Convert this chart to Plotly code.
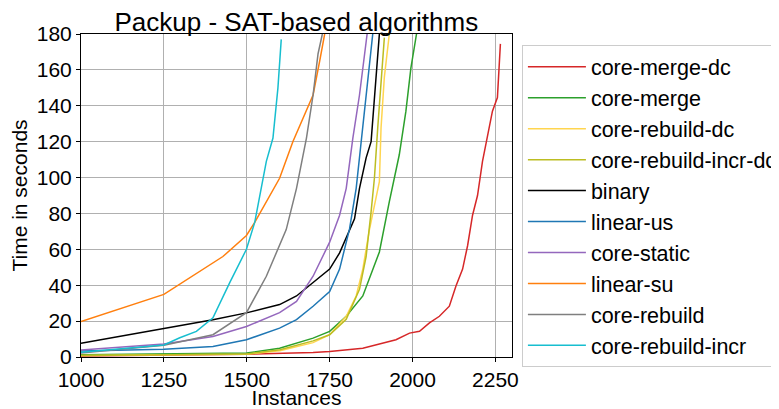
import plotly.graph_objects as go

names = ["core-merge-dc", "core-merge", "core-rebuild-dc", "core-rebuild-incr-dc",
         "binary", "linear-us", "core-static", "linear-su", "core-rebuild", "core-rebuild-incr"]
colors = ["#d62728", "#2ca02c", "#ffd54f", "#bcbd22", "#000000",
          "#1f77b4", "#9467bd", "#ff7f0e", "#7f7f7f", "#17becf"]

# (instances, seconds)
core_merge_dc_x = [1000, 1250, 1500, 1700, 1750, 1850, 1950, 1991, 2021, 2051, 2081, 2111, 2131, 2151, 2166, 2181, 2196, 2211, 2226, 2241, 2256, 2262, 2265]
core_merge_dc_y = [0.5, 0.9, 1.5, 2.5, 3.0, 4.9, 9.6, 13.3, 14.3, 19.0, 22.7, 28.3, 39.6, 49.0, 62.0, 79.0, 90.0, 109.0, 124.0, 137.0, 144.6, 165.0, 174.5]

core_merge_x = [1000, 1250, 1500, 1599, 1700, 1750, 1800, 1850, 1900, 1930, 1960, 1980, 1995, 2012]
core_merge_y = [1.3, 1.6, 2.2, 4.9, 10.5, 14.3, 22.7, 34.0, 58.5, 86.6, 112.7, 137.0, 161.0, 180.0]

core_rebuild_dc_x = [1000, 1250, 1500, 1600, 1700, 1750, 1800, 1830, 1850, 1870, 1890, 1900, 1905, 1915, 1930]
core_rebuild_dc_y = [0.8, 1.0, 1.5, 3.5, 8.0, 12.4, 22.7, 34.0, 49.0, 71.0, 90.0, 97.7, 127.7, 156.0, 180.0]

core_rebuild_incr_dc_x = [1000, 1250, 1500, 1600, 1700, 1750, 1800, 1840, 1860, 1875, 1885, 1895, 1905, 1915]
core_rebuild_incr_dc_y = [0.9, 1.1, 1.7, 4.0, 9.0, 12.4, 21.0, 37.7, 56.0, 81.0, 99.6, 127.7, 156.0, 178.0]

binary_x = [1000, 1250, 1398, 1499, 1599, 1650, 1700, 1750, 1780, 1825, 1840, 1860, 1875, 1890, 1900]
binary_y = [7.7, 15.7, 20.8, 24.6, 29.2, 34.0, 41.4, 49.0, 58.0, 77.0, 94.0, 111.0, 120.0, 156.0, 180.0]

linear_us_x = [1000, 1250, 1398, 1499, 1599, 1650, 1700, 1750, 1780, 1810, 1830, 1850, 1870, 1880]
linear_us_y = [3.3, 4.3, 5.8, 9.6, 16.1, 20.8, 28.3, 36.5, 49.0, 71.4, 94.0, 127.7, 159.6, 180.0]

core_static_x = [1000, 1250, 1398, 1499, 1599, 1650, 1700, 1750, 1780, 1800, 1820, 1840, 1863]
core_static_y = [3.9, 7.3, 11.4, 17.0, 24.7, 31.0, 45.0, 64.0, 79.0, 94.0, 122.0, 146.0, 180.0]

linear_su_x = [1000, 1250, 1428, 1499, 1524, 1599, 1639, 1700, 1720, 1735]
linear_su_y = [19.7, 34.9, 56.0, 67.7, 75.0, 99.6, 120.0, 146.0, 165.0, 180.0]

core_rebuild_x = [1000, 1250, 1398, 1499, 1559, 1619, 1650, 1680, 1700, 1715, 1728]
core_rebuild_y = [2.2, 6.5, 12.4, 24.7, 45.0, 71.0, 94.0, 122.0, 146.0, 169.0, 180.0]

core_rebuild_incr_x = [1000, 1250, 1298, 1348, 1398, 1449, 1499, 1524, 1559, 1579, 1594, 1604]
core_rebuild_incr_y = [2.6, 6.75, 10.7, 14.3, 21.8, 41.6, 60.0, 75.0, 109.0, 122.0, 150.0, 177.0]

series_x = [core_merge_dc_x, core_merge_x, core_rebuild_dc_x, core_rebuild_incr_dc_x, binary_x,
            linear_us_x, core_static_x, linear_su_x, core_rebuild_x, core_rebuild_incr_x]
series_y = [core_merge_dc_y, core_merge_y, core_rebuild_dc_y, core_rebuild_incr_dc_y, binary_y,
            linear_us_y, core_static_y, linear_su_y, core_rebuild_y, core_rebuild_incr_y]

x_ticks = [1000, 1250, 1500, 1750, 2000, 2250]
y_ticks = [0, 20, 40, 60, 80, 100, 120, 140, 160, 180]

fig = go.Figure()
for n, c, xs, ys in zip(names, colors, series_x, series_y):
    fig.add_trace(go.Scatter(x=xs, y=ys, mode="lines", name=n, legendgroup=n,
                             line=dict(color=c, width=1.5)))

FONT = "Liberation Sans, Arial, sans-serif"
axis_common = dict(showgrid=True, gridcolor="#b0b0b0", gridwidth=1, showline=True,
                   linecolor="black", linewidth=1, mirror=True, ticks="outside",
                   ticklen=4, tickcolor="black", zeroline=False, automargin=False,
                   tickfont=dict(size=21, family=FONT, color="black"),
                   title_font=dict(size=21, family=FONT, color="black"))
fig.update_xaxes(range=[1000, 2300], tickvals=x_ticks, title_text="Instances",
                 title_standoff=3, **axis_common)
fig.update_yaxes(range=[0, 180], tickvals=y_ticks, title_text="Time in seconds",
                 title_standoff=4, **axis_common)

fig.update_layout(
    width=771, height=401,
    margin=dict(l=73, r=267, t=26, b=52, autoexpand=False),
    paper_bgcolor="white", plot_bgcolor="white",
    font=dict(family=FONT, color="black"),
    title=dict(text="Packup - SAT-based algorithms", x=0.374, xanchor="center",
               y=0.965, yanchor="middle", font=dict(size=26, family=FONT, color="black")),
    legend=dict(x=1.023, xanchor="left", y=0.965, yanchor="top",
                bordercolor="#cccccc", borderwidth=1, bgcolor="white",
                font=dict(size=21.5, family=FONT, color="black"),
                tracegroupgap=0, itemwidth=58, maxheight=400),
    showlegend=True,
)

fig.write_html("out.html")
